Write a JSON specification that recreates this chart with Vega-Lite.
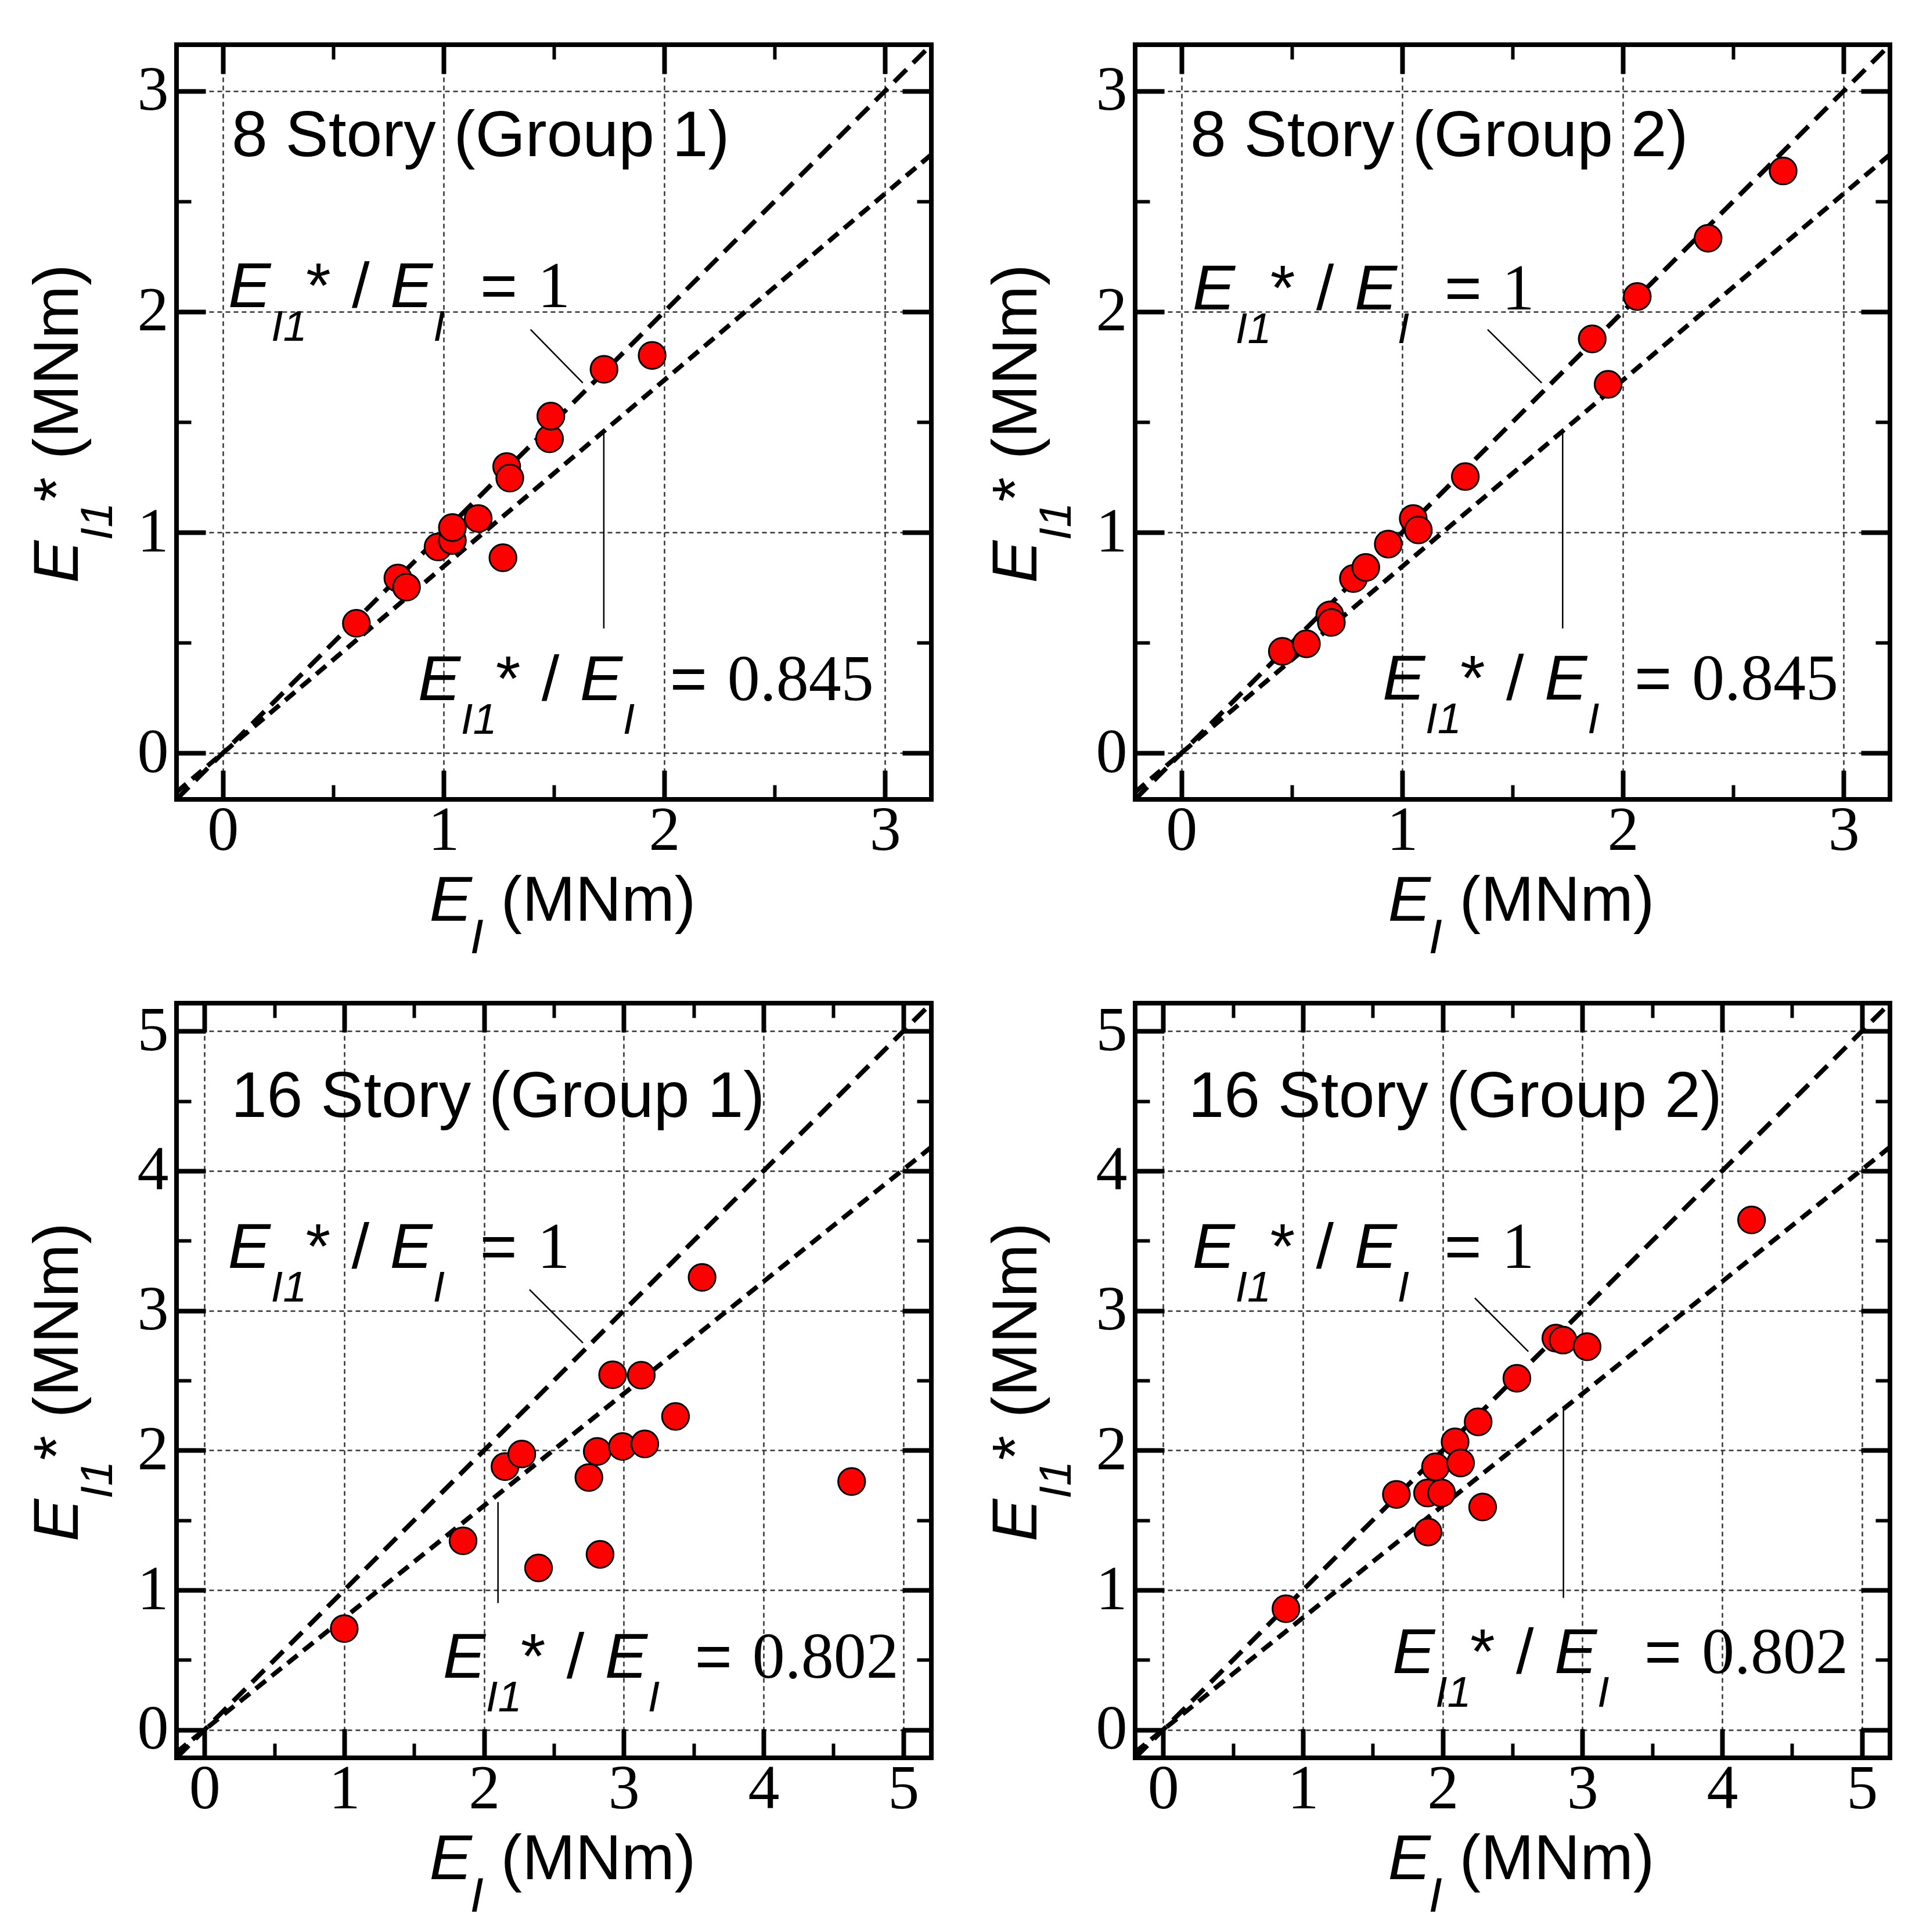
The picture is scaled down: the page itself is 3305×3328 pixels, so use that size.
{
  "$schema": "https://vega.github.io/schema/vega-lite/v6.json",
  "background": "white",
  "padding": {"left": 41, "top": 69, "right": 10, "bottom": 10},
  "datasets": {
    "p1": [
      {"k": "pt", "x": 0.605, "y": 0.588}, {"k": "pt", "x": 0.793, "y": 0.793}, {"k": "pt", "x": 0.832, "y": 0.752},
      {"k": "pt", "x": 0.975, "y": 0.934}, {"k": "pt", "x": 1.04, "y": 0.963}, {"k": "pt", "x": 1.04, "y": 1.022},
      {"k": "pt", "x": 1.157, "y": 1.063}, {"k": "pt", "x": 1.269, "y": 0.885}, {"k": "pt", "x": 1.286, "y": 1.298},
      {"k": "pt", "x": 1.3, "y": 1.246}, {"k": "pt", "x": 1.48, "y": 1.424}, {"k": "pt", "x": 1.486, "y": 1.527},
      {"k": "pt", "x": 1.727, "y": 1.739}, {"k": "pt", "x": 1.945, "y": 1.802},
      {"k": "d1", "x": -0.21, "y": -0.21}, {"k": "d1", "x": 3.21, "y": 3.21},
      {"k": "d2", "x": -0.21, "y": -0.177}, {"k": "d2", "x": 3.21, "y": 2.712},
      {"k": "ld", "x": 1.394, "y": 1.919, "x2": 1.631, "y2": 1.677},
      {"k": "ld", "x": 1.726, "y": 1.455, "x2": 1.726, "y2": 0.565},
      {"k": "tt", "x": 0.04, "y": 2.705, "label": "8 Story (Group 1)"},
      {"k": "an", "x": 0.024, "y": 2.021, "label": "1"},
      {"k": "an", "x": 0.884, "y": 0.24, "label": "0.845"}
    ],
    "p2": [
      {"k": "pt", "x": 0.457, "y": 0.461}, {"k": "pt", "x": 0.566, "y": 0.495}, {"k": "pt", "x": 0.672, "y": 0.626},
      {"k": "pt", "x": 0.679, "y": 0.592}, {"k": "pt", "x": 0.779, "y": 0.791}, {"k": "pt", "x": 0.835, "y": 0.841},
      {"k": "pt", "x": 0.937, "y": 0.947}, {"k": "pt", "x": 1.05, "y": 1.063}, {"k": "pt", "x": 1.073, "y": 1.011},
      {"k": "pt", "x": 1.286, "y": 1.253}, {"k": "pt", "x": 1.861, "y": 1.877}, {"k": "pt", "x": 1.933, "y": 1.671},
      {"k": "pt", "x": 2.065, "y": 2.069}, {"k": "pt", "x": 2.386, "y": 2.333}, {"k": "pt", "x": 2.726, "y": 2.638},
      {"k": "d1", "x": -0.21, "y": -0.21}, {"k": "d1", "x": 3.21, "y": 3.21},
      {"k": "d2", "x": -0.21, "y": -0.177}, {"k": "d2", "x": 3.21, "y": 2.712},
      {"k": "ld", "x": 1.387, "y": 1.919, "x2": 1.632, "y2": 1.677},
      {"k": "ld", "x": 1.727, "y": 1.455, "x2": 1.727, "y2": 0.565},
      {"k": "tt", "x": 0.04, "y": 2.705, "label": "8 Story (Group 2)"},
      {"k": "an", "x": 0.05, "y": 2.01, "label": "1"},
      {"k": "an", "x": 0.911, "y": 0.243, "label": "0.845"}
    ],
    "p3": [
      {"k": "pt", "x": 1.0, "y": 0.725}, {"k": "pt", "x": 1.85, "y": 1.353}, {"k": "pt", "x": 2.15, "y": 1.884},
      {"k": "pt", "x": 2.27, "y": 1.974}, {"k": "pt", "x": 2.39, "y": 1.159}, {"k": "pt", "x": 2.75, "y": 1.806},
      {"k": "pt", "x": 2.81, "y": 1.992}, {"k": "pt", "x": 2.83, "y": 1.256}, {"k": "pt", "x": 2.92, "y": 2.541},
      {"k": "pt", "x": 2.99, "y": 2.028}, {"k": "pt", "x": 3.125, "y": 2.538}, {"k": "pt", "x": 3.15, "y": 2.046},
      {"k": "pt", "x": 3.37, "y": 2.243}, {"k": "pt", "x": 3.56, "y": 3.238}, {"k": "pt", "x": 4.63, "y": 1.777},
      {"k": "d1", "x": -0.2, "y": -0.2}, {"k": "d1", "x": 5.2, "y": 5.2},
      {"k": "d2", "x": -0.2, "y": -0.16}, {"k": "d2", "x": 5.2, "y": 4.17},
      {"k": "ld", "x": 2.325, "y": 3.151, "x2": 2.708, "y2": 2.768},
      {"k": "ld", "x": 2.1, "y": 1.63, "x2": 2.1, "y2": 0.908},
      {"k": "tt", "x": 0.19, "y": 4.386, "label": "16 Story (Group 1)"},
      {"k": "an", "x": 0.168, "y": 3.306, "label": "1"},
      {"k": "an", "x": 1.706, "y": 0.372, "label": "0.802"}
    ],
    "p4": [
      {"k": "pt", "x": 0.879, "y": 0.867}, {"k": "pt", "x": 1.669, "y": 1.685}, {"k": "pt", "x": 1.892, "y": 1.695},
      {"k": "pt", "x": 1.992, "y": 1.695}, {"k": "pt", "x": 1.895, "y": 1.416}, {"k": "pt", "x": 1.949, "y": 1.882},
      {"k": "pt", "x": 2.089, "y": 2.061}, {"k": "pt", "x": 2.128, "y": 1.91}, {"k": "pt", "x": 2.254, "y": 2.204},
      {"k": "pt", "x": 2.286, "y": 1.595}, {"k": "pt", "x": 2.531, "y": 2.516}, {"k": "pt", "x": 2.81, "y": 2.803},
      {"k": "pt", "x": 2.861, "y": 2.789}, {"k": "pt", "x": 3.033, "y": 2.742}, {"k": "pt", "x": 4.21, "y": 3.649},
      {"k": "d1", "x": -0.2, "y": -0.2}, {"k": "d1", "x": 5.2, "y": 5.2},
      {"k": "d2", "x": -0.2, "y": -0.16}, {"k": "d2", "x": 5.2, "y": 4.17},
      {"k": "ld", "x": 2.23, "y": 3.09, "x2": 2.613, "y2": 2.707},
      {"k": "ld", "x": 2.864, "y": 2.303, "x2": 2.864, "y2": 0.944},
      {"k": "tt", "x": 0.18, "y": 4.386, "label": "16 Story (Group 2)"},
      {"k": "an", "x": 0.209, "y": 3.306, "label": "1"},
      {"k": "an", "x": 1.64, "y": 0.407, "label": "0.802"}
    ]
  },
  "columns": 2,
  "spacing": 351,
  "bounds": "flush",
  "concat": [
    {
      "width": 1300, "height": 1300,
      "data": {"name": "p1"},
      "resolve": {"axis": {"x": "independent", "y": "independent"}},
      "layer": [
        {"transform": [{"filter": "datum.k == 'd1'"}],
         "mark": {"type": "line", "stroke": "black", "strokeWidth": 8, "strokeDash": [30, 16], "clip": true},
         "encoding": {
           "x": {"field": "x", "type": "quantitative", "scale": {"domain": [-0.21, 3.21], "nice": false, "zero": false},
                 "axis": {"orient": "bottom", "values": [0, 1, 2, 3], "grid": true, "ticks": false, "labelPadding": 1, "title": "E", "titleFontStyle": "italic", "titleX": 435, "titleY": 208}},
           "y": {"field": "y", "type": "quantitative", "scale": {"domain": [-0.21, 3.21], "nice": false, "zero": false},
                 "axis": {"orient": "left", "values": [0, 1, 2, 3], "grid": true, "ticks": false, "labelPadding": 14, "title": "E", "titleFontStyle": "italic", "titleAngle": 270, "titleX": -171, "titleY": 927}}}},
        {"transform": [{"filter": "datum.k == 'd2'"}],
         "mark": {"type": "line", "stroke": "black", "strokeWidth": 8, "strokeDash": [22, 13], "clip": true},
         "encoding": {
           "x": {"field": "x", "type": "quantitative", "axis": {"orient": "bottom", "values": [0, 1, 2, 3], "tickSize": -50, "labels": false, "title": "I", "titleFontStyle": "italic", "titleFontSize": 84, "titleX": 505, "titleY": 264}},
           "y": {"field": "y", "type": "quantitative", "axis": {"orient": "left", "values": [0, 1, 2, 3], "tickSize": -50, "labels": false, "title": "I1", "titleFontStyle": "italic", "titleFontSize": 78, "titleAngle": 270, "titleX": -112, "titleY": 853}}}},
        {"transform": [{"filter": "datum.k == 'ld'"}],
         "mark": {"type": "rule", "stroke": "black", "strokeWidth": 2.5},
         "encoding": {
           "x": {"field": "x", "type": "quantitative", "axis": {"orient": "bottom", "values": [0.5, 1.5, 2.5], "tickSize": -25, "tickWidth": 6, "labels": false, "title": "(MNm)", "titleX": 558, "titleY": 208}},
           "y": {"field": "y", "type": "quantitative", "axis": {"orient": "left", "values": [0.5, 1.5, 2.5], "tickSize": -25, "tickWidth": 6, "labels": false, "title": "* (MNm)", "titleAngle": 270, "titleX": -171, "titleY": 787}},
           "x2": {"field": "x2"}, "y2": {"field": "y2"}}},
        {"transform": [{"filter": "datum.k == 'pt'"}],
         "mark": {"type": "circle", "size": 2150, "fill": "#ff0000", "stroke": "black", "strokeWidth": 3, "opacity": 1},
         "encoding": {
           "x": {"field": "x", "type": "quantitative", "axis": {"orient": "top", "values": [0, 1, 2, 3], "tickSize": -50, "labels": false, "title": null}},
           "y": {"field": "y", "type": "quantitative", "axis": {"orient": "right", "values": [0, 1, 2, 3], "tickSize": -50, "labels": false, "title": null}}}},
        {"transform": [{"filter": "datum.k == 'tt'"}],
         "mark": {"type": "text", "style": "ttl"},
         "encoding": {
           "x": {"field": "x", "type": "quantitative", "axis": {"orient": "top", "values": [0.5, 1.5, 2.5], "tickSize": -25, "tickWidth": 6, "labels": false, "title": null}},
           "y": {"field": "y", "type": "quantitative", "axis": {"orient": "right", "values": [0.5, 1.5, 2.5], "tickSize": -25, "tickWidth": 6, "labels": false, "title": null}},
           "text": {"field": "label"}}},
        {"transform": [{"filter": "datum.k == 'an'"}], "mark": {"type": "text", "style": "aE", "dx": 0},
         "encoding": {"x": {"field": "x", "type": "quantitative", "axis": null}, "y": {"field": "y", "type": "quantitative", "axis": null}, "text": {"value": "E"}}},
        {"transform": [{"filter": "datum.k == 'an'"}], "mark": {"type": "text", "style": "aSub", "dx": 74},
         "encoding": {"x": {"field": "x", "type": "quantitative", "axis": null}, "y": {"field": "y", "type": "quantitative", "axis": null}, "text": {"value": "I1"}}},
        {"transform": [{"filter": "datum.k == 'an'"}], "mark": {"type": "text", "style": "aSym", "dx": 134},
         "encoding": {"x": {"field": "x", "type": "quantitative", "axis": null}, "y": {"field": "y", "type": "quantitative", "axis": null}, "text": {"value": "*"}}},
        {"transform": [{"filter": "datum.k == 'an'"}], "mark": {"type": "text", "style": "aSym", "dx": 213},
         "encoding": {"x": {"field": "x", "type": "quantitative", "axis": null}, "y": {"field": "y", "type": "quantitative", "axis": null}, "text": {"value": "/"}}},
        {"transform": [{"filter": "datum.k == 'an'"}], "mark": {"type": "text", "style": "aE", "dx": 279},
         "encoding": {"x": {"field": "x", "type": "quantitative", "axis": null}, "y": {"field": "y", "type": "quantitative", "axis": null}, "text": {"value": "E"}}},
        {"transform": [{"filter": "datum.k == 'an'"}], "mark": {"type": "text", "style": "aSub", "dx": 353},
         "encoding": {"x": {"field": "x", "type": "quantitative", "axis": null}, "y": {"field": "y", "type": "quantitative", "axis": null}, "text": {"value": "I"}}},
        {"transform": [{"filter": "datum.k == 'an'"}], "mark": {"type": "text", "style": "aSym", "dx": 434},
         "encoding": {"x": {"field": "x", "type": "quantitative", "axis": null}, "y": {"field": "y", "type": "quantitative", "axis": null}, "text": {"value": "="}}},
        {"transform": [{"filter": "datum.k == 'an'"}], "mark": {"type": "text", "style": "aVal", "dx": 533},
         "encoding": {"x": {"field": "x", "type": "quantitative", "axis": null}, "y": {"field": "y", "type": "quantitative", "axis": null}, "text": {"field": "label"}}}
      ]
    },
    {
      "width": 1300, "height": 1300,
      "data": {"name": "p2"},
      "resolve": {"axis": {"x": "independent", "y": "independent"}},
      "layer": [
        {"transform": [{"filter": "datum.k == 'd1'"}],
         "mark": {"type": "line", "stroke": "black", "strokeWidth": 8, "strokeDash": [30, 16], "clip": true},
         "encoding": {
           "x": {"field": "x", "type": "quantitative", "scale": {"domain": [-0.21, 3.21], "nice": false, "zero": false},
                 "axis": {"orient": "bottom", "values": [0, 1, 2, 3], "grid": true, "ticks": false, "labelPadding": 1, "title": "E", "titleFontStyle": "italic", "titleX": 435, "titleY": 208}},
           "y": {"field": "y", "type": "quantitative", "scale": {"domain": [-0.21, 3.21], "nice": false, "zero": false},
                 "axis": {"orient": "left", "values": [0, 1, 2, 3], "grid": true, "ticks": false, "labelPadding": 14, "title": "E", "titleFontStyle": "italic", "titleAngle": 270, "titleX": -171, "titleY": 927}}}},
        {"transform": [{"filter": "datum.k == 'd2'"}],
         "mark": {"type": "line", "stroke": "black", "strokeWidth": 8, "strokeDash": [22, 13], "clip": true},
         "encoding": {
           "x": {"field": "x", "type": "quantitative", "axis": {"orient": "bottom", "values": [0, 1, 2, 3], "tickSize": -50, "labels": false, "title": "I", "titleFontStyle": "italic", "titleFontSize": 84, "titleX": 505, "titleY": 264}},
           "y": {"field": "y", "type": "quantitative", "axis": {"orient": "left", "values": [0, 1, 2, 3], "tickSize": -50, "labels": false, "title": "I1", "titleFontStyle": "italic", "titleFontSize": 78, "titleAngle": 270, "titleX": -112, "titleY": 853}}}},
        {"transform": [{"filter": "datum.k == 'ld'"}],
         "mark": {"type": "rule", "stroke": "black", "strokeWidth": 2.5},
         "encoding": {
           "x": {"field": "x", "type": "quantitative", "axis": {"orient": "bottom", "values": [0.5, 1.5, 2.5], "tickSize": -25, "tickWidth": 6, "labels": false, "title": "(MNm)", "titleX": 558, "titleY": 208}},
           "y": {"field": "y", "type": "quantitative", "axis": {"orient": "left", "values": [0.5, 1.5, 2.5], "tickSize": -25, "tickWidth": 6, "labels": false, "title": "* (MNm)", "titleAngle": 270, "titleX": -171, "titleY": 787}},
           "x2": {"field": "x2"}, "y2": {"field": "y2"}}},
        {"transform": [{"filter": "datum.k == 'pt'"}],
         "mark": {"type": "circle", "size": 2150, "fill": "#ff0000", "stroke": "black", "strokeWidth": 3, "opacity": 1},
         "encoding": {
           "x": {"field": "x", "type": "quantitative", "axis": {"orient": "top", "values": [0, 1, 2, 3], "tickSize": -50, "labels": false, "title": null}},
           "y": {"field": "y", "type": "quantitative", "axis": {"orient": "right", "values": [0, 1, 2, 3], "tickSize": -50, "labels": false, "title": null}}}},
        {"transform": [{"filter": "datum.k == 'tt'"}],
         "mark": {"type": "text", "style": "ttl"},
         "encoding": {
           "x": {"field": "x", "type": "quantitative", "axis": {"orient": "top", "values": [0.5, 1.5, 2.5], "tickSize": -25, "tickWidth": 6, "labels": false, "title": null}},
           "y": {"field": "y", "type": "quantitative", "axis": {"orient": "right", "values": [0.5, 1.5, 2.5], "tickSize": -25, "tickWidth": 6, "labels": false, "title": null}},
           "text": {"field": "label"}}},
        {"transform": [{"filter": "datum.k == 'an'"}], "mark": {"type": "text", "style": "aE", "dx": 0},
         "encoding": {"x": {"field": "x", "type": "quantitative", "axis": null}, "y": {"field": "y", "type": "quantitative", "axis": null}, "text": {"value": "E"}}},
        {"transform": [{"filter": "datum.k == 'an'"}], "mark": {"type": "text", "style": "aSub", "dx": 74},
         "encoding": {"x": {"field": "x", "type": "quantitative", "axis": null}, "y": {"field": "y", "type": "quantitative", "axis": null}, "text": {"value": "I1"}}},
        {"transform": [{"filter": "datum.k == 'an'"}], "mark": {"type": "text", "style": "aSym", "dx": 134},
         "encoding": {"x": {"field": "x", "type": "quantitative", "axis": null}, "y": {"field": "y", "type": "quantitative", "axis": null}, "text": {"value": "*"}}},
        {"transform": [{"filter": "datum.k == 'an'"}], "mark": {"type": "text", "style": "aSym", "dx": 213},
         "encoding": {"x": {"field": "x", "type": "quantitative", "axis": null}, "y": {"field": "y", "type": "quantitative", "axis": null}, "text": {"value": "/"}}},
        {"transform": [{"filter": "datum.k == 'an'"}], "mark": {"type": "text", "style": "aE", "dx": 279},
         "encoding": {"x": {"field": "x", "type": "quantitative", "axis": null}, "y": {"field": "y", "type": "quantitative", "axis": null}, "text": {"value": "E"}}},
        {"transform": [{"filter": "datum.k == 'an'"}], "mark": {"type": "text", "style": "aSub", "dx": 353},
         "encoding": {"x": {"field": "x", "type": "quantitative", "axis": null}, "y": {"field": "y", "type": "quantitative", "axis": null}, "text": {"value": "I"}}},
        {"transform": [{"filter": "datum.k == 'an'"}], "mark": {"type": "text", "style": "aSym", "dx": 434},
         "encoding": {"x": {"field": "x", "type": "quantitative", "axis": null}, "y": {"field": "y", "type": "quantitative", "axis": null}, "text": {"value": "="}}},
        {"transform": [{"filter": "datum.k == 'an'"}], "mark": {"type": "text", "style": "aVal", "dx": 533},
         "encoding": {"x": {"field": "x", "type": "quantitative", "axis": null}, "y": {"field": "y", "type": "quantitative", "axis": null}, "text": {"field": "label"}}}
      ]
    },
    {
      "width": 1300, "height": 1300,
      "data": {"name": "p3"},
      "resolve": {"axis": {"x": "independent", "y": "independent"}},
      "layer": [
        {"transform": [{"filter": "datum.k == 'd1'"}],
         "mark": {"type": "line", "stroke": "black", "strokeWidth": 8, "strokeDash": [30, 16], "clip": true},
         "encoding": {
           "x": {"field": "x", "type": "quantitative", "scale": {"domain": [-0.2, 5.2], "nice": false, "zero": false},
                 "axis": {"orient": "bottom", "values": [0, 1, 2, 3, 4, 5], "grid": true, "ticks": false, "labelPadding": 1, "title": "E", "titleFontStyle": "italic", "titleX": 435, "titleY": 208}},
           "y": {"field": "y", "type": "quantitative", "scale": {"domain": [-0.2, 5.2], "nice": false, "zero": false},
                 "axis": {"orient": "left", "values": [0, 1, 2, 3, 4, 5], "grid": true, "ticks": false, "labelPadding": 14, "title": "E", "titleFontStyle": "italic", "titleAngle": 270, "titleX": -171, "titleY": 927}}}},
        {"transform": [{"filter": "datum.k == 'd2'"}],
         "mark": {"type": "line", "stroke": "black", "strokeWidth": 8, "strokeDash": [22, 13], "clip": true},
         "encoding": {
           "x": {"field": "x", "type": "quantitative", "axis": {"orient": "bottom", "values": [0, 1, 2, 3, 4, 5], "tickSize": -50, "labels": false, "title": "I", "titleFontStyle": "italic", "titleFontSize": 84, "titleX": 505, "titleY": 264}},
           "y": {"field": "y", "type": "quantitative", "axis": {"orient": "left", "values": [0, 1, 2, 3, 4, 5], "tickSize": -50, "labels": false, "title": "I1", "titleFontStyle": "italic", "titleFontSize": 78, "titleAngle": 270, "titleX": -112, "titleY": 853}}}},
        {"transform": [{"filter": "datum.k == 'ld'"}],
         "mark": {"type": "rule", "stroke": "black", "strokeWidth": 2.5},
         "encoding": {
           "x": {"field": "x", "type": "quantitative", "axis": {"orient": "bottom", "values": [0.5, 1.5, 2.5, 3.5, 4.5], "tickSize": -25, "tickWidth": 6, "labels": false, "title": "(MNm)", "titleX": 558, "titleY": 208}},
           "y": {"field": "y", "type": "quantitative", "axis": {"orient": "left", "values": [0.5, 1.5, 2.5, 3.5, 4.5], "tickSize": -25, "tickWidth": 6, "labels": false, "title": "* (MNm)", "titleAngle": 270, "titleX": -171, "titleY": 787}},
           "x2": {"field": "x2"}, "y2": {"field": "y2"}}},
        {"transform": [{"filter": "datum.k == 'pt'"}],
         "mark": {"type": "circle", "size": 2150, "fill": "#ff0000", "stroke": "black", "strokeWidth": 3, "opacity": 1},
         "encoding": {
           "x": {"field": "x", "type": "quantitative", "axis": {"orient": "top", "values": [0, 1, 2, 3, 4, 5], "tickSize": -50, "labels": false, "title": null}},
           "y": {"field": "y", "type": "quantitative", "axis": {"orient": "right", "values": [0, 1, 2, 3, 4, 5], "tickSize": -50, "labels": false, "title": null}}}},
        {"transform": [{"filter": "datum.k == 'tt'"}],
         "mark": {"type": "text", "style": "ttl"},
         "encoding": {
           "x": {"field": "x", "type": "quantitative", "axis": {"orient": "top", "values": [0.5, 1.5, 2.5, 3.5, 4.5], "tickSize": -25, "tickWidth": 6, "labels": false, "title": null}},
           "y": {"field": "y", "type": "quantitative", "axis": {"orient": "right", "values": [0.5, 1.5, 2.5, 3.5, 4.5], "tickSize": -25, "tickWidth": 6, "labels": false, "title": null}},
           "text": {"field": "label"}}},
        {"transform": [{"filter": "datum.k == 'an'"}], "mark": {"type": "text", "style": "aE", "dx": 0},
         "encoding": {"x": {"field": "x", "type": "quantitative", "axis": null}, "y": {"field": "y", "type": "quantitative", "axis": null}, "text": {"value": "E"}}},
        {"transform": [{"filter": "datum.k == 'an'"}], "mark": {"type": "text", "style": "aSub", "dx": 74},
         "encoding": {"x": {"field": "x", "type": "quantitative", "axis": null}, "y": {"field": "y", "type": "quantitative", "axis": null}, "text": {"value": "I1"}}},
        {"transform": [{"filter": "datum.k == 'an'"}], "mark": {"type": "text", "style": "aSym", "dx": 134},
         "encoding": {"x": {"field": "x", "type": "quantitative", "axis": null}, "y": {"field": "y", "type": "quantitative", "axis": null}, "text": {"value": "*"}}},
        {"transform": [{"filter": "datum.k == 'an'"}], "mark": {"type": "text", "style": "aSym", "dx": 213},
         "encoding": {"x": {"field": "x", "type": "quantitative", "axis": null}, "y": {"field": "y", "type": "quantitative", "axis": null}, "text": {"value": "/"}}},
        {"transform": [{"filter": "datum.k == 'an'"}], "mark": {"type": "text", "style": "aE", "dx": 279},
         "encoding": {"x": {"field": "x", "type": "quantitative", "axis": null}, "y": {"field": "y", "type": "quantitative", "axis": null}, "text": {"value": "E"}}},
        {"transform": [{"filter": "datum.k == 'an'"}], "mark": {"type": "text", "style": "aSub", "dx": 353},
         "encoding": {"x": {"field": "x", "type": "quantitative", "axis": null}, "y": {"field": "y", "type": "quantitative", "axis": null}, "text": {"value": "I"}}},
        {"transform": [{"filter": "datum.k == 'an'"}], "mark": {"type": "text", "style": "aSym", "dx": 434},
         "encoding": {"x": {"field": "x", "type": "quantitative", "axis": null}, "y": {"field": "y", "type": "quantitative", "axis": null}, "text": {"value": "="}}},
        {"transform": [{"filter": "datum.k == 'an'"}], "mark": {"type": "text", "style": "aVal", "dx": 533},
         "encoding": {"x": {"field": "x", "type": "quantitative", "axis": null}, "y": {"field": "y", "type": "quantitative", "axis": null}, "text": {"field": "label"}}}
      ]
    },
    {
      "width": 1300, "height": 1300,
      "data": {"name": "p4"},
      "resolve": {"axis": {"x": "independent", "y": "independent"}},
      "layer": [
        {"transform": [{"filter": "datum.k == 'd1'"}],
         "mark": {"type": "line", "stroke": "black", "strokeWidth": 8, "strokeDash": [30, 16], "clip": true},
         "encoding": {
           "x": {"field": "x", "type": "quantitative", "scale": {"domain": [-0.2, 5.2], "nice": false, "zero": false},
                 "axis": {"orient": "bottom", "values": [0, 1, 2, 3, 4, 5], "grid": true, "ticks": false, "labelPadding": 1, "title": "E", "titleFontStyle": "italic", "titleX": 435, "titleY": 208}},
           "y": {"field": "y", "type": "quantitative", "scale": {"domain": [-0.2, 5.2], "nice": false, "zero": false},
                 "axis": {"orient": "left", "values": [0, 1, 2, 3, 4, 5], "grid": true, "ticks": false, "labelPadding": 14, "title": "E", "titleFontStyle": "italic", "titleAngle": 270, "titleX": -171, "titleY": 927}}}},
        {"transform": [{"filter": "datum.k == 'd2'"}],
         "mark": {"type": "line", "stroke": "black", "strokeWidth": 8, "strokeDash": [22, 13], "clip": true},
         "encoding": {
           "x": {"field": "x", "type": "quantitative", "axis": {"orient": "bottom", "values": [0, 1, 2, 3, 4, 5], "tickSize": -50, "labels": false, "title": "I", "titleFontStyle": "italic", "titleFontSize": 84, "titleX": 505, "titleY": 264}},
           "y": {"field": "y", "type": "quantitative", "axis": {"orient": "left", "values": [0, 1, 2, 3, 4, 5], "tickSize": -50, "labels": false, "title": "I1", "titleFontStyle": "italic", "titleFontSize": 78, "titleAngle": 270, "titleX": -112, "titleY": 853}}}},
        {"transform": [{"filter": "datum.k == 'ld'"}],
         "mark": {"type": "rule", "stroke": "black", "strokeWidth": 2.5},
         "encoding": {
           "x": {"field": "x", "type": "quantitative", "axis": {"orient": "bottom", "values": [0.5, 1.5, 2.5, 3.5, 4.5], "tickSize": -25, "tickWidth": 6, "labels": false, "title": "(MNm)", "titleX": 558, "titleY": 208}},
           "y": {"field": "y", "type": "quantitative", "axis": {"orient": "left", "values": [0.5, 1.5, 2.5, 3.5, 4.5], "tickSize": -25, "tickWidth": 6, "labels": false, "title": "* (MNm)", "titleAngle": 270, "titleX": -171, "titleY": 787}},
           "x2": {"field": "x2"}, "y2": {"field": "y2"}}},
        {"transform": [{"filter": "datum.k == 'pt'"}],
         "mark": {"type": "circle", "size": 2150, "fill": "#ff0000", "stroke": "black", "strokeWidth": 3, "opacity": 1},
         "encoding": {
           "x": {"field": "x", "type": "quantitative", "axis": {"orient": "top", "values": [0, 1, 2, 3, 4, 5], "tickSize": -50, "labels": false, "title": null}},
           "y": {"field": "y", "type": "quantitative", "axis": {"orient": "right", "values": [0, 1, 2, 3, 4, 5], "tickSize": -50, "labels": false, "title": null}}}},
        {"transform": [{"filter": "datum.k == 'tt'"}],
         "mark": {"type": "text", "style": "ttl"},
         "encoding": {
           "x": {"field": "x", "type": "quantitative", "axis": {"orient": "top", "values": [0.5, 1.5, 2.5, 3.5, 4.5], "tickSize": -25, "tickWidth": 6, "labels": false, "title": null}},
           "y": {"field": "y", "type": "quantitative", "axis": {"orient": "right", "values": [0.5, 1.5, 2.5, 3.5, 4.5], "tickSize": -25, "tickWidth": 6, "labels": false, "title": null}},
           "text": {"field": "label"}}},
        {"transform": [{"filter": "datum.k == 'an'"}], "mark": {"type": "text", "style": "aE", "dx": 0},
         "encoding": {"x": {"field": "x", "type": "quantitative", "axis": null}, "y": {"field": "y", "type": "quantitative", "axis": null}, "text": {"value": "E"}}},
        {"transform": [{"filter": "datum.k == 'an'"}], "mark": {"type": "text", "style": "aSub", "dx": 74},
         "encoding": {"x": {"field": "x", "type": "quantitative", "axis": null}, "y": {"field": "y", "type": "quantitative", "axis": null}, "text": {"value": "I1"}}},
        {"transform": [{"filter": "datum.k == 'an'"}], "mark": {"type": "text", "style": "aSym", "dx": 134},
         "encoding": {"x": {"field": "x", "type": "quantitative", "axis": null}, "y": {"field": "y", "type": "quantitative", "axis": null}, "text": {"value": "*"}}},
        {"transform": [{"filter": "datum.k == 'an'"}], "mark": {"type": "text", "style": "aSym", "dx": 213},
         "encoding": {"x": {"field": "x", "type": "quantitative", "axis": null}, "y": {"field": "y", "type": "quantitative", "axis": null}, "text": {"value": "/"}}},
        {"transform": [{"filter": "datum.k == 'an'"}], "mark": {"type": "text", "style": "aE", "dx": 279},
         "encoding": {"x": {"field": "x", "type": "quantitative", "axis": null}, "y": {"field": "y", "type": "quantitative", "axis": null}, "text": {"value": "E"}}},
        {"transform": [{"filter": "datum.k == 'an'"}], "mark": {"type": "text", "style": "aSub", "dx": 353},
         "encoding": {"x": {"field": "x", "type": "quantitative", "axis": null}, "y": {"field": "y", "type": "quantitative", "axis": null}, "text": {"value": "I"}}},
        {"transform": [{"filter": "datum.k == 'an'"}], "mark": {"type": "text", "style": "aSym", "dx": 434},
         "encoding": {"x": {"field": "x", "type": "quantitative", "axis": null}, "y": {"field": "y", "type": "quantitative", "axis": null}, "text": {"value": "="}}},
        {"transform": [{"filter": "datum.k == 'an'"}], "mark": {"type": "text", "style": "aVal", "dx": 533},
         "encoding": {"x": {"field": "x", "type": "quantitative", "axis": null}, "y": {"field": "y", "type": "quantitative", "axis": null}, "text": {"field": "label"}}}
      ]
    }
  ],
  "config": {
    "view": {"stroke": "black", "strokeWidth": 8},
    "axis": {
      "domain": false, "grid": false,
      "labelFont": "Liberation Serif", "labelFontSize": 108, "labelColor": "black", "labelFlush": false, "labelOverlap": false,
      "tickColor": "black", "tickWidth": 8,
      "titleFont": "Liberation Sans", "titleFontSize": 110, "titleFontWeight": "normal", "titleColor": "black",
      "titleAlign": "left", "titleBaseline": "alphabetic",
      "gridColor": "#333333", "gridDash": [8, 6], "gridWidth": 2.5
    },
    "style": {
      "ttl": {"font": "Liberation Sans", "fontSize": 111, "align": "left", "baseline": "alphabetic", "fill": "black"},
      "aE": {"font": "Liberation Sans", "fontStyle": "italic", "fontSize": 110, "align": "left", "baseline": "alphabetic", "fill": "black"},
      "aSub": {"font": "Liberation Sans", "fontStyle": "italic", "fontSize": 74, "align": "left", "baseline": "alphabetic", "dy": 58, "fill": "black"},
      "aSym": {"font": "Liberation Sans", "fontSize": 110, "align": "left", "baseline": "alphabetic", "fill": "black"},
      "aVal": {"font": "Liberation Serif", "fontSize": 112, "align": "left", "baseline": "alphabetic", "fill": "black"}
    }
  }
}
